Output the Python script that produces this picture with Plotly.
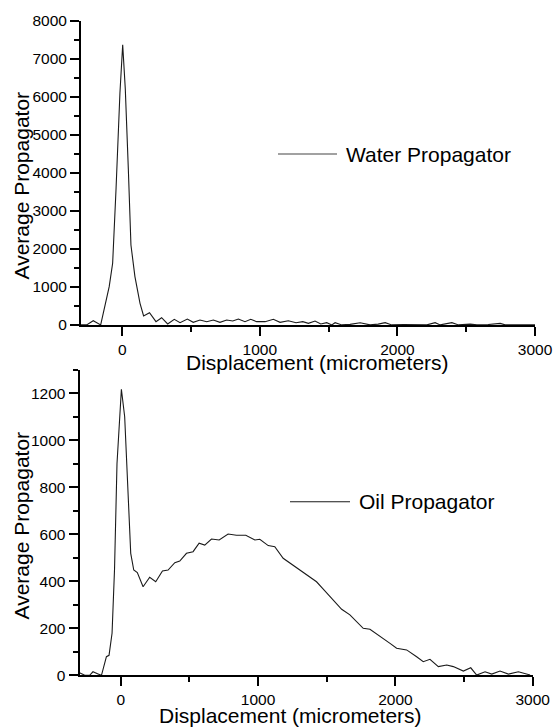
import plotly.graph_objects as go

# ---------------- data ----------------
water_x = [-300, -259, -211, -157, -95, -70, -45, -17, 3, 22, 44, 63, 92, 129, 155, 198,
           245, 286, 330, 378, 420, 473, 516, 565, 614, 662, 710, 759, 803, 844, 892,
           934, 977, 1038, 1098, 1147, 1207, 1263, 1312, 1353, 1401, 1443, 1486, 1523,
           1547, 1596, 1656, 1729, 1801, 1860, 1911, 1959, 2044, 2141, 2214, 2274, 2311,
           2396, 2444, 2529, 2578, 2660, 2747, 2783, 2900, 3000]
water_y = [0, 0, 110, 0, 1006, 1620, 3600, 6100, 7366, 6200, 4100, 2100, 1270, 568, 234, 322,
           85, 190, 24, 147, 58, 155, 68, 129, 85, 129, 68, 129, 103, 155, 85,
           147, 85, 85, 147, 68, 110, 58, 85, 42, 103, 24, 58, 0,
           58, 0, 15, 58, 0, 20, 58, 0, 10, 10, 0, 58, 0,
           58, 0, 20, 0, 10, 40, 0, 0, 0]

oil_x = [-300, -262, -226, -202, -165, -140, -104, -85, -63, -45, -27, 5, 29, 66, 73, 95,
         121, 163, 211, 255, 304, 345, 394, 430, 479, 527, 571, 612, 661, 717, 782,
         843, 911, 977, 1013, 1074, 1122, 1183, 1250, 1305, 1360, 1402, 1426, 1470,
         1523, 1609, 1669, 1766, 1815, 1888, 1961, 2009, 2082, 2155, 2203, 2252, 2313,
         2374, 2422, 2495, 2549, 2592, 2653, 2702, 2762, 2823, 2896, 2981]
oil_y = [11, 0, 0, 15, 6, 0, 79, 85, 179, 450, 900, 1217, 1100, 632, 519, 448,
         437, 377, 417, 398, 444, 448, 479, 486, 519, 526, 562, 554, 580, 576, 601,
         596, 596, 576, 579, 552, 547, 498, 470, 448, 425, 406, 398, 370,
         335, 281, 257, 200, 196, 164, 136, 115, 108, 79, 58, 68, 37,
         44, 37, 18, 32, 1, 15, 5, 18, 5, 15, 1]

x_tickvals = [0, 1000, 2000, 3000]
top_y_ticks = [0, 1000, 2000, 3000, 4000, 5000, 6000, 7000, 8000]
bot_y_ticks = [0, 200, 400, 600, 800, 1000, 1200]

x_title = "Displacement (micrometers)"
y_title = "Average Propagator"
water_label = "Water Propagator"
oil_label = "Oil Propagator"

# ---------------- figure ----------------
W, H = 554, 727
FONT = "Liberation Sans, Arial, Helvetica, sans-serif"

fig = go.Figure()
fig.add_trace(go.Scatter(x=water_x, y=water_y, mode="lines", name=water_label,
                         line=dict(color="#1a1a1a", width=1.1), xaxis="x", yaxis="y",
                         showlegend=False))
fig.add_trace(go.Scatter(x=oil_x, y=oil_y, mode="lines", name=oil_label,
                         line=dict(color="#1a1a1a", width=1.1), xaxis="x2", yaxis="y2",
                         showlegend=False))


def px_x(p):
    return p / W


def px_y(p):
    return 1 - p / H


axis_common = dict(showline=True, linecolor="black", linewidth=2, ticks="outside",
                   ticklen=9, tickwidth=2, tickcolor="black", showgrid=False,
                   zeroline=False, mirror=False, automargin=False,
                   tickfont=dict(family=FONT, size=15.5, color="black"))

xa = dict(axis_common, range=[-300, 3000], tickvals=x_tickvals,
          minor=dict(ticks="outside", ticklen=5, tickwidth=2, tickcolor="black",
                     tick0=0, dtick=500))

fig.update_layout(
    width=W, height=H,
    margin=dict(l=0, r=0, t=0, b=0, autoexpand=False),
    paper_bgcolor="white", plot_bgcolor="white",
    font=dict(family=FONT, color="black"),
    xaxis=dict(xa, domain=[px_x(81), px_x(535)], anchor="y"),
    yaxis=dict(axis_common, range=[0, 8000], tickvals=top_y_ticks,
               domain=[px_y(324.9), px_y(20.7)], anchor="x",
               minor=dict(ticks="outside", ticklen=5, tickwidth=2, tickcolor="black",
                          tick0=0, dtick=500)),
    xaxis2=dict(xa, domain=[px_x(79.5), px_x(532.7)], anchor="y2"),
    yaxis2=dict(axis_common, range=[0, 1300], tickvals=bot_y_ticks,
                domain=[px_y(675.3), px_y(369.8)], anchor="x2",
                minor=dict(ticks="outside", ticklen=5, tickwidth=2, tickcolor="black",
                           tick0=0, dtick=100)),
)

title_font = dict(family=FONT, size=21, color="black")
annotations = [
    dict(text=x_title, x=px_x(317), y=px_y(362), xref="paper", yref="paper",
         showarrow=False, font=title_font, xanchor="center", yanchor="middle"),
    dict(text=x_title, x=px_x(290), y=px_y(715.5), xref="paper", yref="paper",
         showarrow=False, font=title_font, xanchor="center", yanchor="middle"),
    dict(text=y_title, x=px_x(21), y=px_y(185.5), xref="paper", yref="paper",
         showarrow=False, font=title_font, textangle=-90, xanchor="center", yanchor="middle"),
    dict(text=y_title, x=px_x(21), y=px_y(525.5), xref="paper", yref="paper",
         showarrow=False, font=title_font, textangle=-90, xanchor="center", yanchor="middle"),
    dict(text=water_label, x=px_x(344), y=px_y(154), xref="paper", yref="paper",
         showarrow=False, font=title_font, xanchor="left", yanchor="middle"),
    dict(text=oil_label, x=px_x(356.5), y=px_y(501.7), xref="paper", yref="paper",
         showarrow=False, font=title_font, xanchor="left", yanchor="middle"),
]
shapes = [
    dict(type="line", xref="paper", yref="paper", x0=px_x(278), x1=px_x(337),
         y0=px_y(154), y1=px_y(154), line=dict(color="#444", width=1.2)),
    dict(type="line", xref="paper", yref="paper", x0=px_x(290), x1=px_x(350),
         y0=px_y(501.7), y1=px_y(501.7), line=dict(color="#1a1a1a", width=1.1)),
]
fig.update_layout(annotations=annotations, shapes=shapes)

fig.write_html("out.html")
